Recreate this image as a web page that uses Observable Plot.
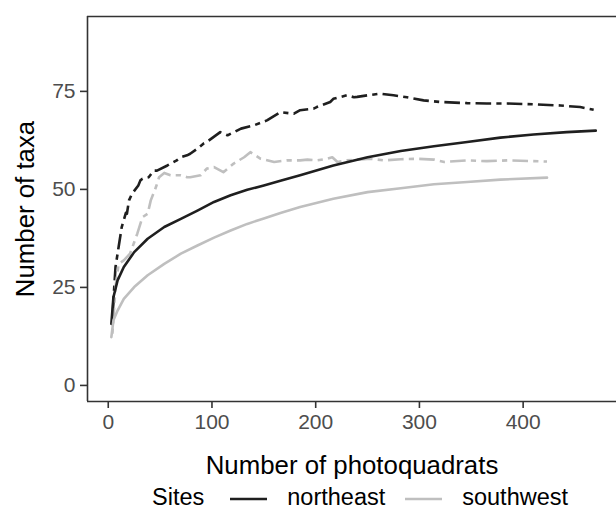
<!DOCTYPE html>
<html>
<head>
<meta charset="utf-8">
<script src="https://cdn.jsdelivr.net/npm/d3@7"></script>
<script src="https://cdn.jsdelivr.net/npm/@observablehq/plot@0.6"></script>
<style>
  html, body { margin: 0; padding: 0; background: white; }
  #wrap { width: 616px; height: 511px; overflow: hidden; font-family: "Liberation Sans", Arial, Helvetica, sans-serif; }
  #legend { height: 27px; display: flex; align-items: center; padding-left: 152px; font-size: 23.5px; line-height: 27px; color: #000; white-space: nowrap; }
  #legend svg { display: block; }
</style>
</head>
<body>
<div id="wrap"><div id="chart"></div><div id="legend"></div></div>
<script>
// ---- data ----
const sites = ["northeast", "southwest"];
const siteColors = ["#1f1f1f", "#bfbfbf"];
const xTicks = [0, 100, 200, 300, 400];
const yTicks = [0, 25, 50, 75];

// estimated (smooth, solid) curves
const neEstX = [3, 5, 9, 15, 25, 38, 54, 70, 86, 102, 118, 134, 150, 166, 185, 217, 250, 282, 314, 346, 378, 410, 442, 470];
const neEstY = [15.7, 22.5, 26.8, 30.2, 34, 37.4, 40.4, 42.5, 44.6, 46.8, 48.5, 49.9, 51, 52.2, 53.6, 56.1, 58.2, 59.8, 61, 62.1, 63.2, 64, 64.6, 65];
const swEstX = [3, 5, 9, 15, 25, 38, 54, 70, 86, 102, 118, 134, 150, 166, 185, 217, 250, 282, 314, 346, 378, 423];
const swEstY = [12.3, 16.6, 19.1, 22.1, 25.1, 28.1, 31, 33.6, 35.7, 37.7, 39.5, 41.2, 42.6, 44, 45.5, 47.6, 49.3, 50.3, 51.3, 51.9, 52.5, 53];

// observed (jagged, two-dash) curves
const neObsX = [4, 5, 7, 10, 13, 17, 18, 20, 23, 29, 31, 33, 39, 44, 47, 57, 66, 70, 76, 79, 86, 92, 95, 108, 115, 128, 140, 153, 166, 179, 185, 198, 201, 214, 217, 230, 237, 240, 250, 262, 275, 288, 304, 320, 346, 365, 385, 410, 436, 455, 468];
const neObsY = [16.2, 21.7, 30.2, 35.3, 40.4, 44, 43.8, 47.2, 48.9, 51, 52.3, 52.7, 53.1, 54.8, 54.8, 56.1, 57.4, 58.2, 58.7, 59.1, 60.4, 61.7, 62.1, 64.6, 63.8, 65.5, 66.3, 67.6, 69.7, 69.3, 70.2, 70.6, 71, 72.3, 73.1, 74, 73.5, 73.6, 74, 74.4, 74, 73.5, 72.7, 72.3, 72, 71.9, 71.9, 71.7, 71.4, 71, 70.3];
const swObsX = [4, 7, 10, 15, 21, 28, 33, 38, 41, 46, 49, 54, 60, 63, 70, 76, 79, 89, 95, 102, 111, 121, 131, 137, 147, 160, 172, 185, 192, 201, 211, 216, 221, 230, 240, 253, 266, 282, 298, 314, 324, 346, 365, 385, 410, 423];
const swObsY = [13.2, 25.1, 31, 31.9, 33.6, 38.7, 42.9, 43.8, 47.2, 50.6, 53.1, 54.2, 53.6, 53.6, 53.6, 53.1, 53.1, 53.6, 55.3, 55.7, 54.4, 56.6, 58.2, 59.5, 57.8, 57, 57.4, 57.4, 57.6, 57.4, 57.8, 58.2, 57, 57.4, 57.6, 57.8, 57.4, 57.7, 57.8, 57.6, 57, 57.4, 57.2, 57.4, 57.2, 57.1];

const xDomain = [-20, 490];
const yDomain = [-4.1, 94.1];

// ---- build tables ----
function rows(xs, ys, site, kind) { return xs.map((x, i) => ({x, y: ys[i], site, kind})); }
const estRows = [...rows(neEstX, neEstY, "northeast", "est"), ...rows(swEstX, swEstY, "southwest", "est")];
const obsRows = [...rows(neObsX, neObsY, "northeast", "obs"), ...rows(swObsX, swObsY, "southwest", "obs")];

const font = "Liberation Sans, Arial, Helvetica, sans-serif";
const lw = 2.6;

const chart = Plot.plot({
  width: 616,
  height: 484,
  marginLeft: 87,
  marginRight: 0,
  marginTop: 16,
  marginBottom: 83,
  style: {fontFamily: font, background: "white"},
  x: {domain: xDomain},
  y: {domain: yDomain},
  color: {domain: sites, range: siteColors},
  marks: [
    Plot.line(obsRows, {x: "x", y: "y", z: "site", stroke: "site", strokeWidth: lw, strokeDasharray: "5.2,5.2,15.6,5.2", strokeLinecap: "butt", strokeLinejoin: "round"}),
    Plot.line(estRows, {x: "x", y: "y", z: "site", stroke: "site", strokeWidth: lw, strokeLinejoin: "round"}),
    Plot.ruleY([yDomain[0], yDomain[1]], {stroke: "#333", strokeWidth: 1.6}),
    Plot.ruleX([xDomain[0]], {stroke: "#333", strokeWidth: 1.6}),
    Plot.axisX(xTicks, {tickSize: 7, tickPadding: 6, fontSize: 21, stroke: "#333", strokeWidth: 1.6, fill: "#4d4d4d", label: null}),
    Plot.axisY(yTicks, {tickSize: 7, tickPadding: 5, fontSize: 21, stroke: "#333", strokeWidth: 1.6, fill: "#4d4d4d", label: null}),
    Plot.text(["Number of photoquadrats"], {frameAnchor: "bottom", textAnchor: "middle", lineAnchor: "middle", dy: 64, fontSize: 25.8, fill: "#000"}),
    Plot.text(["Number of taxa"], {frameAnchor: "left", textAnchor: "middle", lineAnchor: "middle", rotate: -90, dx: -62, fontSize: 25.8, fill: "#000"})
  ]
});
document.getElementById("chart").appendChild(chart);

// ---- legend ----
const legend = document.getElementById("legend");
const title = document.createElement("span");
title.textContent = "Sites";
legend.appendChild(title);
sites.forEach((s, i) => {
  const key = document.createElementNS("http://www.w3.org/2000/svg", "svg");
  key.setAttribute("width", 37);
  key.setAttribute("height", 27);
  key.style.marginLeft = i === 0 ? "26px" : "20px";
  key.style.marginRight = "20px";
  const ln = document.createElementNS("http://www.w3.org/2000/svg", "line");
  ln.setAttribute("x1", 0); ln.setAttribute("x2", 37);
  ln.setAttribute("y1", 15); ln.setAttribute("y2", 15);
  ln.setAttribute("stroke", siteColors[i]);
  ln.setAttribute("stroke-width", lw);
  key.appendChild(ln);
  legend.appendChild(key);
  const t = document.createElement("span");
  t.textContent = s;
  legend.appendChild(t);
});
</script>
</body>
</html>
